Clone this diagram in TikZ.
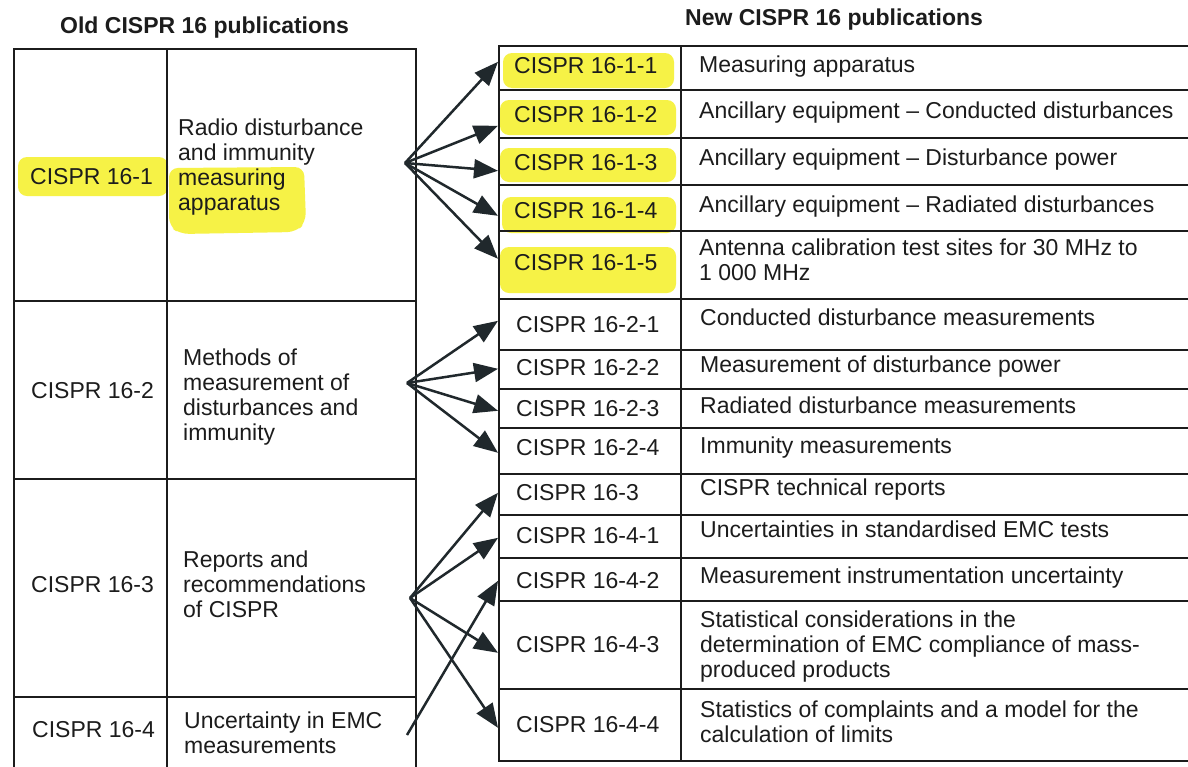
\documentclass[tikz,border=0pt]{standalone}
\usepackage{fontspec}
\setmainfont{Liberation Sans}
\usetikzlibrary{arrows.meta}
\definecolor{ink}{RGB}{28,28,28}
\definecolor{arrink}{RGB}{32,40,44}
\definecolor{hl}{RGB}{246,242,70}
\newcommand\bodyfont{\fontsize{23}{25}\selectfont}
\newcommand\fs{\rule{0pt}{18pt}}
\tikzset{
  cell/.style n args={2}{draw=ink, line width=1.6pt, inner sep=0pt, anchor=north west,
    minimum width=#1, minimum height=#2},
  txt/.style={inner sep=0pt, anchor=north west, align=left, font=\bodyfont, text=ink},
  ttl/.style={inner sep=0pt, anchor=base west, font=\bodyfont\bfseries, text=ink},
  arr/.style={draw=arrink, line width=2.5pt, -{Triangle[length=24pt,width=19pt]}},
  hlmark/.style={fill=hl, rounded corners=9pt}
}
\begin{document}
\begin{tikzpicture}[x=1pt,y=-1pt]
\useasboundingbox (0,0) rectangle (1188,766);
\fill[white] (0,0) rectangle (1188,766);
\clip (0,0) rectangle (1188,766);

% highlights
\path[hlmark] (18,157) rectangle (168,196);
\path[hlmark] (169,168) -- (304,167) -- (306,222) -- (296,232) -- (180,234) -- (169,226) -- cycle;
\path[hlmark] (503,53) rectangle (674,88);
\path[hlmark] (500,100) rectangle (676,135);
\path[hlmark] (500,148) rectangle (676,182);
\path[hlmark] (502,197) rectangle (676,233);
\path[hlmark] (500,247) rectangle (676,293);

% titles
\node[ttl] (oldT) at (60,33) {Old CISPR 16 publications};
\node[ttl] (newT) at (685,25) {New CISPR 16 publications};

% left table
\node[cell={153}{252}] (L1a) at (13,48) {};
\node[cell={249}{252}] (L1b) at (166,48) {};
\node[cell={153}{178}] (L2a) at (13,300) {};
\node[cell={249}{178}] (L2b) at (166,300) {};
\node[cell={153}{218}] (L3a) at (13,478) {};
\node[cell={249}{218}] (L3b) at (166,478) {};
\node[cell={153}{100}] (L4a) at (13,696) {};
\node[cell={249}{100}] (L4b) at (166,696) {};

% right table
\node[cell={182}{44}] (r111) at (498,45) {};
\node[cell={530}{44}] (d111) at (680,45) {};
\node[cell={182}{48}] (r112) at (498,89) {};
\node[cell={530}{48}] (d112) at (680,89) {};
\node[cell={182}{47}] (r113) at (498,137) {};
\node[cell={530}{47}] (d113) at (680,137) {};
\node[cell={182}{46}] (r114) at (498,184) {};
\node[cell={530}{46}] (d114) at (680,184) {};
\node[cell={182}{68}] (r115) at (498,230) {};
\node[cell={530}{68}] (d115) at (680,230) {};
\node[cell={182}{51}] (r221) at (498,298) {};
\node[cell={530}{51}] (d221) at (680,298) {};
\node[cell={182}{39}] (r222) at (498,349) {};
\node[cell={530}{39}] (d222) at (680,349) {};
\node[cell={182}{39}] (r223) at (498,388) {};
\node[cell={530}{39}] (d223) at (680,388) {};
\node[cell={182}{46}] (r224) at (498,427) {};
\node[cell={530}{46}] (d224) at (680,427) {};
\node[cell={182}{41}] (r3) at (498,473) {};
\node[cell={530}{41}] (d3) at (680,473) {};
\node[cell={182}{43}] (r41) at (498,514) {};
\node[cell={530}{43}] (d41) at (680,514) {};
\node[cell={182}{43}] (r42) at (498,557) {};
\node[cell={530}{43}] (d42) at (680,557) {};
\node[cell={182}{88}] (r43) at (498,600) {};
\node[cell={530}{88}] (d43) at (680,600) {};
\node[cell={182}{72}] (r44) at (498,688) {};
\node[cell={530}{72}] (d44) at (680,688) {};

% left texts
\node[txt] (t1a) at (30,166) {\fs CISPR 16-1};
\node[txt] (t1b) at (178,117) {\fs Radio disturbance\\and immunity\\measuring\\apparatus};
\node[txt] (t2a) at (31,380) {\fs CISPR 16-2};
\node[txt] (t2b) at (183,347) {\fs Methods of\\measurement of\\disturbances and\\immunity};
\node[txt] (t3a) at (31,574) {\fs CISPR 16-3};
\node[txt] (t3b) at (183,549) {\fs Reports and\\recommendations\\of CISPR};
\node[txt] (t4a) at (32,719) {\fs CISPR 16-4};
\node[txt] (t4b) at (184,710) {\fs Uncertainty in EMC\\measurements};

% right texts
\node[txt] (u111) at (514,55) {\fs CISPR 16-1-1};
\node[txt] (v111) at (699,54) {\fs Measuring apparatus};
\node[txt] (u112) at (514,104) {\fs CISPR 16-1-2};
\node[txt] (v112) at (699,100) {\fs Ancillary equipment -- Conducted disturbances};
\node[txt] (u113) at (514,152) {\fs CISPR 16-1-3};
\node[txt] (v113) at (699,147) {\fs Ancillary equipment -- Disturbance power};
\node[txt] (u114) at (514,200) {\fs CISPR 16-1-4};
\node[txt] (v114) at (699,194) {\fs Ancillary equipment -- Radiated disturbances};
\node[txt] (u115) at (514,252) {\fs CISPR 16-1-5};
\node[txt] (v115) at (699,237) {\fs Antenna calibration test sites for 30 MHz to\\1 000 MHz};
\node[txt] (u221) at (516,314) {\fs CISPR 16-2-1};
\node[txt] (v221) at (700,307) {\fs Conducted disturbance measurements};
\node[txt] (u222) at (516,357) {\fs CISPR 16-2-2};
\node[txt] (v222) at (700,354) {\fs Measurement of disturbance power};
\node[txt] (u223) at (516,398) {\fs CISPR 16-2-3};
\node[txt] (v223) at (700,395) {\fs Radiated disturbance measurements};
\node[txt] (u224) at (516,437) {\fs CISPR 16-2-4};
\node[txt] (v224) at (700,435) {\fs Immunity measurements};
\node[txt] (u3) at (516,482) {\fs CISPR 16-3};
\node[txt] (v3) at (700,477) {\fs CISPR technical reports};
\node[txt] (u41) at (516,525) {\fs CISPR 16-4-1};
\node[txt] (v41) at (700,519) {\fs Uncertainties in standardised EMC tests};
\node[txt] (u42) at (516,570) {\fs CISPR 16-4-2};
\node[txt] (v42) at (700,565) {\fs Measurement instrumentation uncertainty};
\node[txt] (u43) at (516,634) {\fs CISPR 16-4-3};
\node[txt] (v43) at (700,609) {\fs Statistical considerations in the\\determination of EMC compliance of mass-\\produced products};
\node[txt] (u44) at (516,714) {\fs CISPR 16-4-4};
\node[txt] (v44) at (700,699) {\fs Statistics of complaints and a model for the\\calculation of limits};

% arrow sources
\coordinate (s1) at (405,163);
\coordinate (s2) at (407,383);
\coordinate (s3) at (410,598);
\coordinate (s4) at (407,735);

% arrows
\draw[arr] (s1) -- ([yshift=6pt]r111.west);
\draw[arr] (s1) -- ([yshift=-12pt]r112.west);
\draw[arr] (s1) -- ([yshift=-9.5pt]r113.west);
\draw[arr] (s1) -- ([yshift=-8pt]r114.west);
\draw[arr] (s1) -- ([yshift=6pt]r115.west);
\draw[arr] (s2) -- ([yshift=3.5pt]r221.west);
\draw[arr] (s2) -- ([yshift=0.5pt]r222.west);
\draw[arr] (s2) -- ([yshift=-2.5pt]r223.west);
\draw[arr] (s2) -- ([yshift=-2pt]r224.west);
\draw[arr] (s3) -- ([yshift=1.5pt]r3.west);
\draw[arr] (s3) -- ([yshift=-1.5pt]r41.west);
\draw[arr] (s3) -- ([yshift=-8pt]r43.west);
\draw[arr] (s3) -- ([yshift=-3pt]r44.west);
\draw[arr] (s4) -- ([yshift=-1.5pt]r42.west);
\end{tikzpicture}
\end{document}
